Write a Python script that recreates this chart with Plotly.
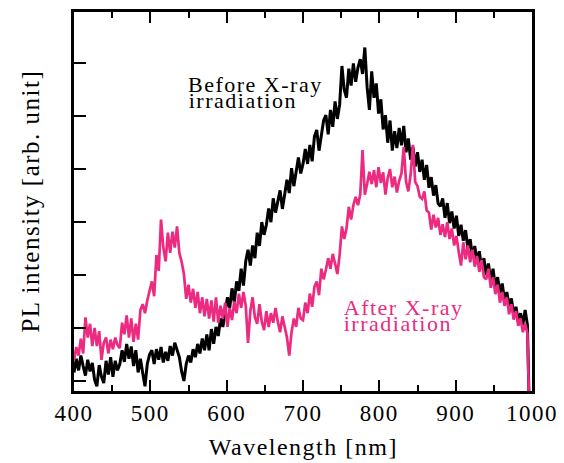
import plotly.graph_objects as go

# Wavelength grid [nm] (3 nm sampling) and PL intensities (arb. unit)
wavelength = list(range(400, 995, 3)) + [996]

before_int = [
    0.16, 0.42, 0.20, 0.48, 0.28, 0.10, 0.40, 0.18, 0.34, 0.02,
    -0.10, 0.30, 0.08, -0.04, 0.38, 0.12, 0.45, 0.08, 0.38, 0.20,
    0.32, 0.58, 0.36, 0.70, 0.42, 0.65, 0.28, 0.58, 0.16, 0.42,
    0.15, -0.10, 0.32, 0.50, 0.58, 0.32, 0.60, 0.40, 0.64, 0.35,
    0.55, 0.38, 0.66, 0.48, 0.72, 0.56, 0.45, 0.18, 0.00, 0.32,
    0.48, 0.35, 0.60, 0.45, 0.70, 0.52, 0.80, 0.58, 0.88, 0.58,
    0.98, 0.70, 1.02, 0.85, 1.18, 1.02, 1.35, 1.58, 1.38, 1.75,
    1.48, 1.88, 1.70, 2.12, 1.80, 2.26, 2.48, 2.18, 2.56, 2.32,
    2.80, 2.55, 3.00, 2.76, 2.95, 3.26, 3.00, 3.45, 3.18, 3.42,
    3.60, 3.25, 3.52, 3.80, 3.55, 4.02, 3.68, 3.92, 4.22, 3.92,
    4.10, 4.38, 4.10, 4.46, 4.15, 4.62, 4.74, 4.35, 4.68, 4.92,
    5.02, 4.66, 5.12, 4.80, 5.28, 4.95, 5.22, 5.95, 5.50, 5.35,
    5.90, 5.58, 6.00, 5.65, 5.92, 6.08, 5.80, 6.30, 5.55, 5.12,
    5.85, 5.35, 5.62, 5.05, 5.32, 4.75, 5.02, 4.50, 4.92, 4.35,
    4.72, 4.40, 4.78, 4.45, 4.82, 4.32, 4.58, 4.18, 4.42, 4.05,
    4.32, 3.95, 4.18, 3.80, 4.08, 3.65, 3.85, 3.50, 3.70, 3.35,
    3.30, 3.45, 3.08, 3.36, 2.98, 3.20, 2.88, 3.12, 2.74, 2.95,
    2.65, 2.85, 2.50, 2.68, 2.35, 2.55, 2.25, 2.45, 2.12, 2.32,
    2.00, 2.22, 1.88, 2.12, 1.76, 1.96, 1.66, 1.84, 1.52, 1.68,
    1.42, 1.56, 1.25, 1.40, 1.12, 1.28, 1.06, 1.34, 1.06,
    -0.25,
]

after_int = [
    0.39, 0.64, 0.48, 0.80, 0.52, 1.20, 0.82, 1.08, 0.66, 1.00,
    0.66, 0.94, 0.40, 0.72, 0.82, 0.52, 0.78, 0.60, 0.82, 0.68,
    0.62, 1.10, 0.88, 1.24, 0.82, 1.18, 0.74, 1.08, 0.78, 1.34,
    1.45, 1.28, 1.52, 1.70, 1.88, 1.60, 2.38, 2.08, 3.05, 2.52,
    2.26, 2.80, 2.42, 2.82, 2.52, 2.92, 2.42, 2.25, 2.02, 1.55,
    1.82, 1.48, 1.74, 1.38, 1.68, 1.28, 1.58, 1.22, 1.55, 1.18,
    1.52, 1.12, 1.58, 1.10, 1.42, 1.18, 1.48, 1.02, 1.38, 1.15,
    1.50, 1.28, 1.65, 1.38, 1.68, 1.42, 0.72, 1.32, 1.58, 1.20,
    1.08, 1.45, 1.12, 0.96, 1.32, 1.02, 1.28, 1.10, 1.38, 1.12,
    0.92, 1.22, 1.02, 0.82, 0.48, 0.92, 1.18, 1.02, 1.38, 1.18,
    1.15, 1.48, 1.28, 1.65, 1.40, 1.78, 1.88, 1.62, 2.12, 1.92,
    2.10, 2.32, 2.12, 2.40, 2.22, 2.02, 2.38, 2.92, 2.68, 2.88,
    3.29, 3.05, 3.32, 3.48, 3.32, 3.52, 4.36, 3.52, 3.72, 3.95,
    3.72, 3.98, 3.66, 4.04, 3.74, 3.94, 3.52, 3.84, 4.00, 3.66,
    3.86, 3.56, 3.78, 3.92, 4.42, 3.76, 3.58, 3.90, 4.46, 3.76,
    3.68, 3.48, 3.44, 3.58, 3.22, 3.18, 2.86, 3.14, 2.90, 3.08,
    2.76, 2.96, 2.72, 3.00, 2.68, 2.88, 2.56, 2.74, 2.44, 2.18,
    2.62, 2.30, 2.56, 2.24, 2.48, 2.16, 2.36, 2.06, 2.28, 1.96,
    1.92, 2.12, 1.76, 1.96, 1.64, 1.82, 1.48, 1.68, 1.42, 1.58,
    1.26, 1.45, 1.16, 1.32, 1.04, 1.18, 0.92, 1.08, 0.90,
    -0.30,
]

x_ticks = [400, 500, 600, 700, 800, 900, 1000]
x_tick_text = ["400", "500", "600", "700", "800", "900", "1000"]
y_ticks = [0, 1, 2, 3, 4, 5, 6]

BLACK = "#000000"
PINK = "#ec2a80"
FONT = "Liberation Serif"

fig = go.Figure()
fig.add_trace(go.Scatter(x=wavelength, y=before_int, mode="lines",
                         line=dict(color=BLACK, width=3), showlegend=False))
fig.add_trace(go.Scatter(x=wavelength, y=after_int, mode="lines",
                         line=dict(color=PINK, width=2.7), showlegend=False))

yrange = [-0.19, 6.97]

fig.update_layout(
    width=564, height=463,
    margin=dict(l=74, r=32, t=9, b=72),
    paper_bgcolor="white", plot_bgcolor="white",
    font=dict(family=FONT, color="black", size=22),
    showlegend=False,
    xaxis=dict(
        range=[400, 1000], tickvals=x_ticks, ticktext=x_tick_text,
        ticks="inside", ticklen=11, tickwidth=2, tickcolor="black",
        minor=dict(dtick=50, tick0=400, ticks="inside", ticklen=6, tickwidth=2, tickcolor="black"),
        showline=True, linewidth=2.5, linecolor="black", mirror="ticks",
        showgrid=False, zeroline=False,
        tickfont=dict(family=FONT, size=23, color="black"),
    ),
    yaxis=dict(
        range=yrange, tickvals=y_ticks, showticklabels=False,
        ticks="inside", ticklen=12, tickwidth=2, tickcolor="black",
        showline=True, linewidth=2.5, linecolor="black", mirror=True,
        showgrid=False, zeroline=False,
    ),
    yaxis2=dict(
        range=yrange, tickvals=y_ticks, showticklabels=False, overlaying="y", side="right",
        ticks="inside", ticklen=5, tickwidth=2, tickcolor="black",
        showline=False, showgrid=False, zeroline=False,
    ),
)

annos = [
    dict(text="Before X-ray", x=559, y=5.6, color=BLACK),
    dict(text="irradiation", x=559, y=5.29, color=BLACK),
    dict(text="After X-ray", x=762, y=1.38, color=PINK),
    dict(text="irradiation", x=762, y=1.08, color=PINK),
]
for a in annos:
    fig.add_annotation(x=a["x"], y=a["y"], xref="x", yref="y", text=a["text"], showarrow=False,
                       xanchor="left", yanchor="middle",
                       font=dict(family=FONT, size=22, color=a["color"]))

fig.add_annotation(text="Wavelength [nm]", xref="paper", yref="paper", x=0.5, y=-0.147,
                   xanchor="center", yanchor="middle", showarrow=False,
                   font=dict(family=FONT, size=24, color="black"))
fig.add_annotation(text="PL intensity [arb. unit]", xref="paper", yref="paper", x=-0.096, y=0.5,
                   xanchor="center", yanchor="middle", textangle=-90, showarrow=False,
                   font=dict(family=FONT, size=25, color="black"))

post = (
    "document.body.style.margin='0';document.body.style.padding='0';"
    "var s=document.createElement('style');"
    "s.textContent='.main-svg text{letter-spacing:1.5px;}';"
    "document.head.appendChild(s);"
)
fig.write_html("out.html", config={"displayModeBar": False}, post_script=post)
